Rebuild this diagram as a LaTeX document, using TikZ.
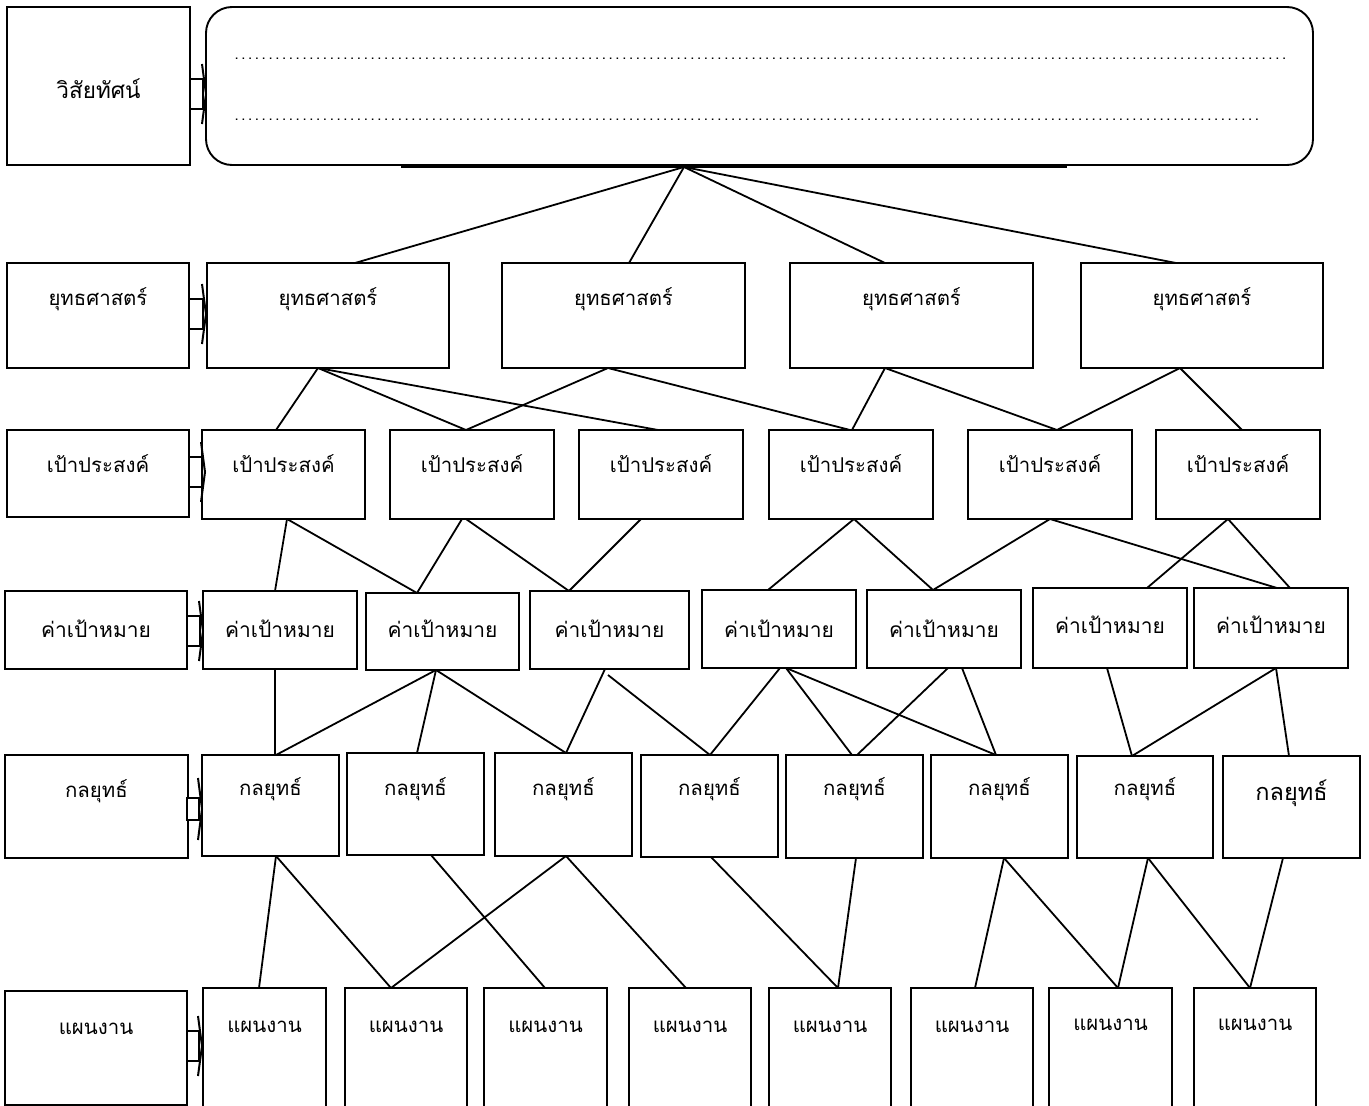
\documentclass[tikz,border=0pt]{standalone}
\usepackage{fontspec}
\newfontfamily\thaifont[Script=Thai]{Loma}
\tikzset{
  box/.style={draw, line width=1.9pt, inner sep=0pt, outer sep=0pt},
  lbl/.style={font=\thaifont\fontsize{20.4}{23}\selectfont, anchor=base, inner sep=0pt},
  big/.style={font=\thaifont\fontsize{21}{24}\selectfont},
  conn/.style={line width=1.8pt},
  headline/.style={line width=2pt, line join=miter},
}
\newcommand\bx[5]{\node[box, anchor=north west, minimum width={(#4-#2)*1pt}, minimum height={(#5-#3)*1pt}] (#1) at (#2,#3) {};}
\newcommand\cn[4]{\draw[conn] (#1.south -| #2,0) -- (#3.north -| #4,0);}
\newcommand\barr[5]{%
  \draw[line width=1.5pt, fill=white] (#1,#3-#4) rectangle (#2,#3+#4);
  \draw[headline] (#2-1,#3-#5) -- (#2+3,#3) -- (#2-1,#3+#5);}
\newcommand\dotrow[1]{\hbox to #1{\leaders\hbox to 6.8pt{\hss.\hss}\hfill}}
\begin{document}
\begin{tikzpicture}[x=1pt,y=-1pt]
\useasboundingbox (0,0) rectangle (1369,1106);
% left labels
\bx{lv}{7}{7}{190}{165}
\bx{ls}{7}{263}{189}{368}
\bx{lo}{7}{430}{189}{517}
\bx{lt}{5}{591}{187}{669}
\bx{lk}{5}{755}{188}{858}
\bx{lp}{5}{991}{187}{1105}
\node[lbl, font=\thaifont\fontsize{22.5}{25}\selectfont] (lvt) at (lv.center |- 0,98) {วิสัยทัศน์};
\node[lbl] (lst) at (ls.center |- 0,305) {ยุทธศาสตร์};
\node[lbl] (lot) at (lo.center |- 0,472) {เป้าประสงค์};
\node[lbl, big] (ltt) at (lt.center |- 0,637) {ค่าเป้าหมาย};
\node[lbl] (lkt) at (lk.center |- 0,797) {กลยุทธ์};
\node[lbl] (lpt) at (lp.center |- 0,1034) {แผนงาน};
% vision box
\node[box, rounded corners=26pt, anchor=north west, minimum width=1107pt, minimum height=158pt] (vis) at (206,7) {};
\draw[line width=1.8pt] (401,167) -- (1067,167);
\coordinate (vc) at (684,167);
\node[anchor=base west, inner sep=0pt, font=\thaifont\fontsize{15}{17}\selectfont] (d1) at (233,59) {\dotrow{1056pt}};
\node[anchor=base west, inner sep=0pt, font=\thaifont\fontsize{15}{17}\selectfont] (d2) at (233,120) {\dotrow{1029pt}};
% arrows
\barr{190}{203}{94}{15}{30}
\barr{189}{203}{314}{15}{30}
\barr{189}{202}{472}{15}{30}
\barr{187}{200}{631}{15}{30}
\barr{187}{199}{809}{11}{31}
\barr{187}{199}{1046}{15}{30}
% strategies
\bx{s1}{207}{263}{449}{368}
\bx{s2}{502}{263}{745}{368}
\bx{s3}{790}{263}{1033}{368}
\bx{s4}{1081}{263}{1323}{368}
\foreach \n in {s1,s2,s3,s4}{\node[lbl] (\n t) at (\n.center |- 0,305) {ยุทธศาสตร์};}
% objectives
\bx{o1}{202}{430}{365}{519}
\bx{o2}{390}{430}{554}{519}
\bx{o3}{579}{430}{743}{519}
\bx{o4}{769}{430}{933}{519}
\bx{o5}{968}{430}{1132}{519}
\bx{o6}{1156}{430}{1320}{519}
\foreach \n in {o1,o2,o3,o4,o5,o6}{\node[lbl] (\n t) at (\n.center |- 0,472) {เป้าประสงค์};}
% targets
\bx{t1}{203}{591}{357}{669}
\bx{t2}{366}{593}{519}{670}
\bx{t3}{530}{591}{689}{669}
\bx{t4}{702}{590}{856}{668}
\bx{t5}{867}{590}{1021}{668}
\bx{t6}{1033}{588}{1187}{668}
\bx{t7}{1194}{588}{1348}{668}
\foreach \n in {t1,t2,t3,t4,t5}{\node[lbl, big] (\n t) at (\n.center |- 0,637) {ค่าเป้าหมาย};}
\foreach \n in {t6,t7}{\node[lbl, big] (\n t) at (\n.center |- 0,633) {ค่าเป้าหมาย};}
% kon-yut
\bx{k1}{202}{755}{339}{856}
\bx{k2}{347}{753}{484}{855}
\bx{k3}{495}{753}{632}{856}
\bx{k4}{641}{755}{778}{857}
\bx{k5}{786}{755}{923}{858}
\bx{k6}{931}{755}{1068}{858}
\bx{k7}{1077}{756}{1213}{858}
\bx{k8}{1223}{756}{1360}{858}
\foreach \n in {k1,k2,k3,k4,k5,k6,k7}{\node[lbl] (\n t) at (\n.center |- 0,795) {กลยุทธ์};}
\node[lbl, font=\thaifont\fontsize{23.5}{26}\selectfont] (k8t) at (k8.center |- 0,800) {กลยุทธ์};
% plans
\bx{p1}{203}{988}{326}{1108}
\bx{p2}{345}{988}{467}{1108}
\bx{p3}{484}{988}{607}{1108}
\bx{p4}{629}{988}{751}{1108}
\bx{p5}{769}{988}{891}{1108}
\bx{p6}{911}{988}{1033}{1108}
\bx{p7}{1049}{988}{1172}{1108}
\bx{p8}{1194}{988}{1316}{1108}
\foreach \n in {p1,p2,p3,p4,p5,p6}{\node[lbl] (\n t) at (\n.center |- 0,1032) {แผนงาน};}
\foreach \n in {p7,p8}{\node[lbl] (\n t) at (\n.center |- 0,1030) {แผนงาน};}
% connectors vision -> strategies
\draw[conn] (vc) -- (s1.north -| 355,0);
\draw[conn] (vc) -- (s2.north -| 629,0);
\draw[conn] (vc) -- (s3.north -| 885,0);
\draw[conn] (vc) -- (s4.north -| 1176,0);
% strategies -> objectives
\cn{s1}{318}{o1}{276}
\cn{s1}{318}{o2}{466}
\cn{s1}{318}{o3}{658}
\cn{s2}{608}{o2}{466}
\cn{s2}{608}{o4}{850}
\cn{s3}{885}{o4}{852}
\cn{s3}{885}{o5}{1057}
\cn{s4}{1180}{o5}{1057}
\cn{s4}{1180}{o6}{1242}
% objectives -> targets
\cn{o1}{287}{t1}{275}
\cn{o1}{287}{t2}{417}
\cn{o2}{462}{t2}{417}
\cn{o2}{466}{t3}{569}
\cn{o3}{641}{t3}{569}
\cn{o4}{854}{t4}{768}
\cn{o4}{854}{t5}{933}
\cn{o5}{1050}{t5}{933}
\cn{o5}{1050}{t7}{1277}
\cn{o6}{1228}{t6}{1147}
\cn{o6}{1228}{t7}{1290}
% targets -> kon-yut
\cn{t1}{275}{k1}{275}
\cn{t2}{436}{k1}{276}
\cn{t2}{436}{k2}{417}
\cn{t2}{436}{k3}{566}
\cn{t3}{605}{k3}{566}
\draw[conn] ([yshift=-6pt]t3.south -| 608,0) -- (k4.north -| 710,0);
\cn{t4}{780}{k4}{710}
\cn{t4}{786}{k5}{852}
\cn{t4}{786}{k6}{996}
\cn{t5}{948}{k5}{857}
\cn{t5}{962}{k6}{996}
\cn{t6}{1107}{k7}{1132}
\cn{t7}{1276}{k7}{1132}
\cn{t7}{1276}{k8}{1289}
% kon-yut -> plans
\cn{k1}{276}{p1}{259}
\cn{k1}{276}{p2}{391}
\cn{k2}{431}{p3}{545}
\cn{k3}{566}{p2}{391}
\cn{k3}{566}{p4}{686}
\cn{k4}{711}{p5}{838}
\cn{k5}{856}{p5}{838}
\cn{k6}{1004}{p6}{975}
\cn{k6}{1004}{p7}{1118}
\cn{k7}{1148}{p7}{1118}
\cn{k7}{1148}{p8}{1250}
\cn{k8}{1283}{p8}{1250}
\end{tikzpicture}
\end{document}
